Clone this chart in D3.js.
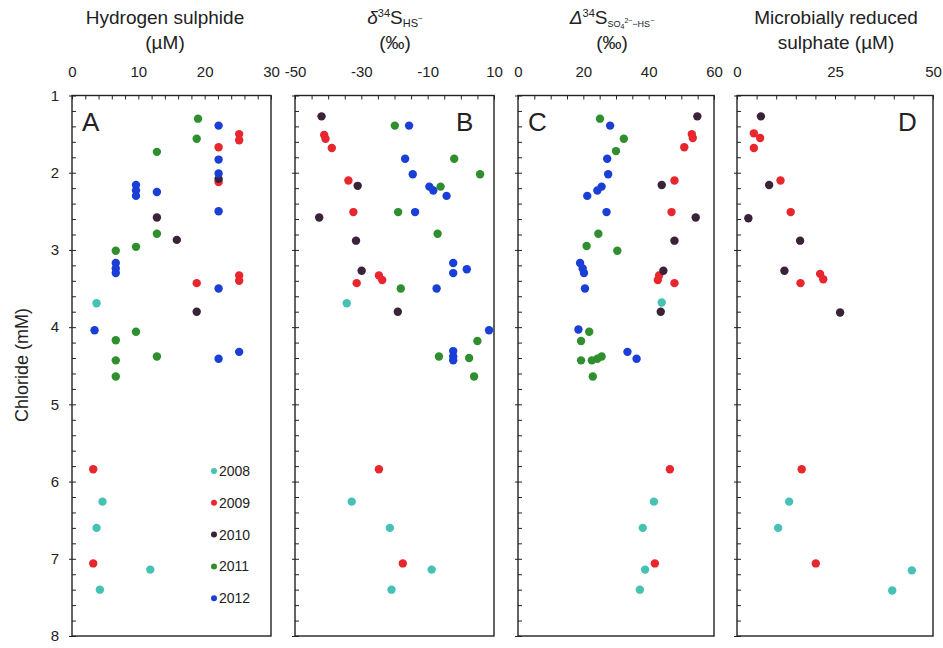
<!DOCTYPE html>
<html><head><meta charset="utf-8">
<script src="https://cdn.jsdelivr.net/npm/d3@7"></script>
<style>body{margin:0;background:#fff}svg{font-family:"Liberation Sans",Arial,sans-serif}</style>
</head><body><svg id="c" width="943" height="648"></svg>
<script>
const years = ["2008","2009","2010","2011","2012"];
const colors = ["#46c2b4","#e8262e","#3a2238","#2f8f2f","#1a3fd6"];
const chlorideTicks = [1,2,3,4,5,6,7,8];

// Panel A: hydrogen sulphide (µM)  [chloride, value]
const h2s_2008 = [[3.69,3.7],[6.26,4.6],[6.60,3.7],[7.14,11.8],[7.40,4.2]];
const h2s_2009 = [[1.50,25.2],[1.58,25.2],[1.67,22.1],[2.12,22.1],[3.33,25.2],[3.40,25.2],[3.43,18.8],[5.84,3.2],[7.06,3.2]];
const h2s_2010 = [[2.08,22.1],[2.58,12.8],[2.87,15.8],[3.80,18.8]];
const h2s_2011 = [[1.30,19.0],[1.56,18.8],[1.73,12.8],[2.79,12.8],[2.96,9.65],[3.01,6.6],[4.06,9.65],[4.17,6.6],[4.38,12.8],[4.43,6.6],[4.64,6.6]];
const h2s_2012 = [[1.39,22.1],[1.83,22.1],[2.01,22.1],[2.16,9.65],[2.23,9.65],[2.30,9.65],[2.25,12.8],[2.50,22.1],[3.17,6.6],[3.24,6.6],[3.30,6.6],[3.50,22.1],[4.04,3.4],[4.32,25.2],[4.41,22.1]];

// Panel B: δ34S HS- (‰)
const d34_2008 = [[3.69,-34.4],[6.26,-32.9],[6.60,-21.4],[7.14,-8.8],[7.40,-20.9]];
const d34_2009 = [[1.51,-41.2],[1.56,-40.8],[1.68,-38.9],[2.10,-33.9],[2.51,-32.4],[3.33,-24.7],[3.39,-23.7],[3.43,-31.4],[5.84,-24.7],[7.06,-17.5]];
const d34_2010 = [[1.27,-42.0],[2.17,-31.1],[2.58,-42.7],[2.88,-31.6],[3.27,-29.9],[3.80,-19.0]];
const d34_2011 = [[1.39,-19.9],[1.82,-2.0],[2.02,5.8],[2.18,-6.1],[2.51,-18.9],[2.79,-7.0],[3.50,-18.1],[4.18,5.0],[4.38,-6.6],[4.40,2.5],[4.64,4.0]];
const d34_2012 = [[1.39,-15.6],[1.82,-16.8],[2.02,-14.5],[2.18,-9.5],[2.23,-8.3],[2.30,-4.3],[2.51,-13.8],[3.17,-2.3],[3.25,1.8],[3.30,-2.3],[3.50,-7.3],[4.04,8.5],[4.31,-2.3],[4.38,-2.3],[4.43,-2.3]];

// Panel C: Δ34S SO4-HS (‰)
const D34_2008 = [[3.68,44.0],[6.26,41.6],[6.60,38.2],[7.14,38.9],[7.40,37.3]];
const D34_2009 = [[1.50,53.2],[1.55,53.5],[1.67,50.9],[2.10,47.9],[2.51,47.0],[3.33,43.2],[3.39,42.8],[3.43,47.9],[5.84,46.5],[7.06,41.9]];
const D34_2010 = [[1.27,54.9],[2.16,44.0],[2.58,54.4],[2.88,47.9],[3.27,44.5],[3.80,43.7]];
const D34_2011 = [[1.30,25.1],[1.56,32.4],[1.72,30.0],[2.79,24.6],[2.95,21.0],[3.01,30.4],[4.06,21.8],[4.18,19.3],[4.38,25.6],[4.41,24.3],[4.43,22.6],[4.43,19.3],[4.64,22.9]];
const D34_2012 = [[1.39,28.2],[1.82,27.3],[2.02,27.6],[2.18,25.6],[2.23,24.3],[2.30,21.2],[2.51,27.1],[3.17,19.0],[3.24,19.8],[3.30,20.2],[3.50,20.5],[4.03,18.5],[4.32,33.5],[4.41,36.3]];

// Panel D: microbially reduced sulphate (µM)
const mrs_2008 = [[6.26,13.3],[6.60,10.5],[7.15,44.6],[7.41,39.6]];
const mrs_2009 = [[1.49,4.3],[1.55,5.9],[1.68,4.3],[2.10,11.1],[2.51,13.7],[3.31,21.2],[3.38,22.0],[3.43,16.2],[5.84,16.5],[7.06,20.1]];
const mrs_2010 = [[1.27,6.1],[2.16,8.2],[2.59,2.9],[2.88,16.1],[3.27,12.1],[3.81,26.3]];
const mrs_2011 = [];
const mrs_2012 = [];

const xTicksA = [0,10,20,30], xTicksB = [-50,-30,-10,10], xTicksC = [0,20,40,60], xTicksD = [0,25,50];

const panels = [
  {x0:72, x1:271, dom:[0,30], ticks:xTicksA, minor:2, letter:"A", lx:82, series:[h2s_2008,h2s_2009,h2s_2010,h2s_2011,h2s_2012]},
  {x0:295, x1:494, dom:[-50,10], ticks:xTicksB, minor:5, letter:"B", lx:456, series:[d34_2008,d34_2009,d34_2010,d34_2011,d34_2012]},
  {x0:518, x1:714, dom:[0,60], ticks:xTicksC, minor:5, letter:"C", lx:528, series:[D34_2008,D34_2009,D34_2010,D34_2011,D34_2012]},
  {x0:737, x1:933, dom:[0,50], ticks:xTicksD, minor:5, letter:"D", lx:898, series:[mrs_2008,mrs_2009,mrs_2010,mrs_2011,mrs_2012]}
];

const svg = d3.select("#c");
const y = d3.scaleLinear().domain([1,8]).range([95.5,636]);
const ink = "#222";
const fmtHyphen = d => String(d);

panels.forEach((p,i)=>{
  const x = d3.scaleLinear().domain(p.dom).range([p.x0,p.x1]);
  const g = svg.append("g");
  g.append("rect").attr("x",p.x0).attr("y",y(1)).attr("width",p.x1-p.x0).attr("height",y(8)-y(1))
    .attr("fill","none").attr("stroke",ink).attr("stroke-width",1.4);
  const topAx = d3.axisTop(x).tickValues(d3.range(p.dom[0],p.dom[1]+0.001,p.minor)).tickSize(-4).tickFormat("");
  g.append("g").attr("transform",`translate(0,${y(1)})`).call(topAx).call(s=>{s.select(".domain").remove();s.selectAll("line").attr("stroke",ink);});
  const labAx = d3.axisTop(x).tickValues(p.ticks).tickSize(0).tickPadding(0).tickFormat(fmtHyphen);
  g.append("g").attr("transform",`translate(0,77)`).call(labAx).call(s=>{s.select(".domain").remove();
    s.selectAll("text").attr("font-size",15).attr("fill",ink).attr("font-family","Liberation Sans, Arial, sans-serif");});
  const leftAx = d3.axisLeft(y).tickValues(d3.range(1,8.001,0.2)).tickSize(-4).tickFormat("");
  g.append("g").attr("transform",`translate(${p.x0},0)`).call(leftAx).call(s=>{s.select(".domain").remove();s.selectAll("line").attr("stroke",ink);});
  const leftMaj = d3.axisLeft(y).tickValues(chlorideTicks).tickSize(3).tickPadding(i===0?10:0).tickFormat(i===0?fmtHyphen:"");
  g.append("g").attr("transform",`translate(${p.x0},0)`).call(leftMaj).call(s=>{s.select(".domain").remove();s.selectAll("line").attr("stroke",ink);
    s.selectAll("text").attr("font-size",15).attr("fill",ink).attr("font-family","Liberation Sans, Arial, sans-serif");});
  g.append("text").attr("x",p.lx).attr("y",131).attr("font-size",26).attr("fill",ink).text(p.letter);
  p.series.forEach((arr,k)=>{
    g.append("g").selectAll("circle").data(arr).join("circle")
      .attr("cx",d=>x(d[1])).attr("cy",d=>y(d[0])).attr("r",4.2).attr("fill",colors[k]);
  });
});

function title(cx, line1, line2){
  const t = svg.append("text").attr("x",cx).attr("y",24).attr("text-anchor","middle").attr("font-size",19).attr("fill",ink);
  line1(t);
  svg.append("text").attr("x",cx).attr("y",49).attr("text-anchor","middle").attr("font-size",19).attr("fill",ink).text(line2);
}
title(165, t=>t.text("Hydrogen sulphide"), "(µM)");
title(395, t=>{
  t.append("tspan").attr("font-style","italic").text("δ");
  t.append("tspan").attr("font-size",11).attr("dy",-7).text("34");
  t.append("tspan").attr("dy",7).text("S");
  t.append("tspan").attr("font-size",11).attr("dy",3).text("HS");
  t.append("tspan").attr("font-size",8).attr("dy",-6).text("−");
}, "(‰)");
title(612, t=>{
  t.append("tspan").attr("font-style","italic").text("Δ");
  t.append("tspan").attr("font-size",11).attr("dy",-7).text("34");
  t.append("tspan").attr("dy",7).text("S");
  t.append("tspan").attr("font-size",9).attr("dy",3).text("SO");
  t.append("tspan").attr("font-size",7).attr("dy",2).text("4");
  t.append("tspan").attr("font-size",7).attr("dy",-6).text("2−");
  t.append("tspan").attr("font-size",9).attr("dy",4).text("−HS");
  t.append("tspan").attr("font-size",7).attr("dy",-4).text("−");
}, "(‰)");
title(836, t=>t.text("Microbially reduced"), "sulphate (µM)");

svg.append("text").attr("transform","translate(28,365) rotate(-90)").attr("text-anchor","middle")
  .attr("font-size",18).attr("fill",ink).text("Chloride (mM)");

const leg = svg.append("g");
years.forEach((yr,k)=>{
  const cy = 471 + k*31.8;
  leg.append("circle").attr("cx",214).attr("cy",cy).attr("r",3).attr("fill",colors[k]);
  leg.append("text").attr("x",219).attr("y",cy+5).attr("font-size",14).attr("fill",ink).text(yr);
});
</script></body></html>
